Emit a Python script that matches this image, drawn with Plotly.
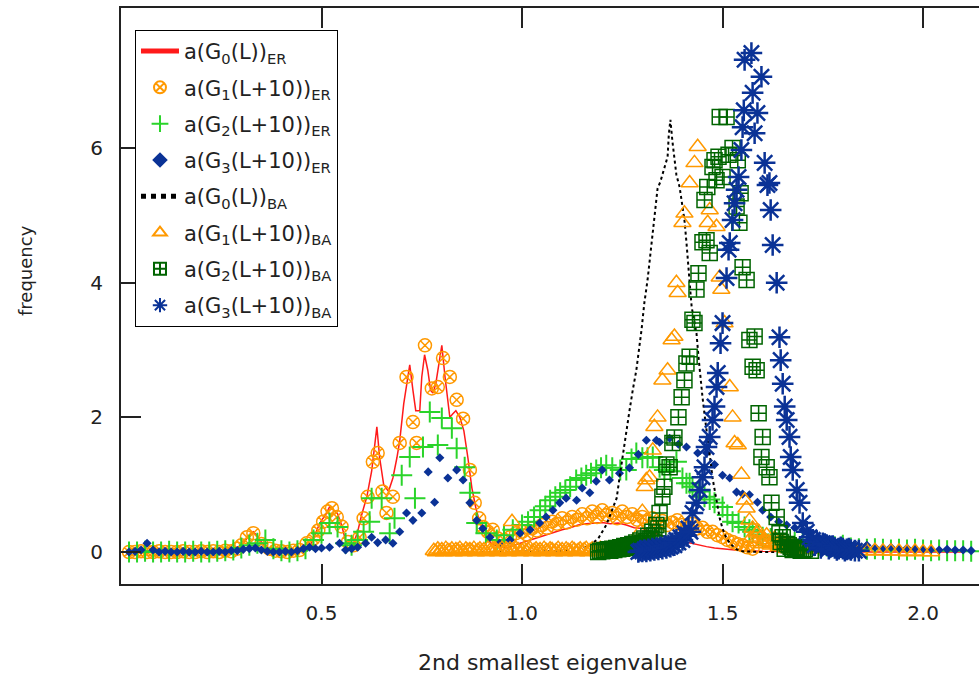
import plotly.graph_objects as go

# ---------------- data ----------------
# a(G0(L))_ER  (red line)
er0_x = [0.02,0.04,0.06,0.08,0.10,0.12,0.14,0.16,0.18,0.20,0.22,0.24,0.26,0.28,0.30,0.31,0.32,0.33,0.34,0.35,0.36,0.37,0.39,0.41,0.43,0.45,0.47,0.48,0.49,0.50,0.51,0.52,0.53,0.54,0.55,0.56,0.57,0.58,0.59,0.60,0.613,0.625,0.632,0.638,0.645,0.655,0.667,0.678,0.688,0.695,0.705,0.715,0.72,0.728,0.735,0.745,0.75,0.757,0.765,0.772,0.778,0.785,0.792,0.80,0.808,0.815,0.82,0.827,0.835,0.845,0.855,0.865,0.875,0.885,0.895,0.91,0.925,0.94,0.96,0.98,1.0,1.02,1.04,1.06,1.08,1.10,1.12,1.14,1.16,1.18,1.20,1.22,1.24,1.26,1.28,1.30,1.32,1.34,1.36,1.38,1.40,1.42,1.44,1.46,1.48,1.50,1.52,1.55,1.60,1.70,1.80,1.90,2.00,2.10]
er0_y = [0.0,0.01,0.02,0.0,0.01,0.0,0.01,0.0,0.01,0.0,0.01,0.02,0.02,0.04,0.10,0.18,0.25,0.30,0.24,0.15,0.08,0.04,0.02,0.01,0.02,0.03,0.08,0.20,0.35,0.47,0.55,0.67,0.62,0.57,0.40,0.17,0.12,0.13,0.30,0.55,0.82,1.20,1.55,1.86,1.40,1.00,0.90,1.10,1.40,1.65,2.20,2.60,2.78,2.40,2.10,2.10,2.60,2.93,2.70,2.40,2.36,2.50,2.80,3.07,2.60,2.20,2.00,2.05,2.10,2.00,1.80,1.40,0.95,0.65,0.43,0.22,0.12,0.08,0.06,0.10,0.14,0.18,0.22,0.26,0.30,0.33,0.36,0.40,0.42,0.43,0.44,0.42,0.43,0.40,0.36,0.35,0.30,0.26,0.22,0.20,0.16,0.13,0.10,0.08,0.06,0.05,0.04,0.02,0.01,0.0,0.0,0.0,0.0,0.0]

# a(G1(L+10))_ER  (orange circles)
er1_x = [0.02,0.035,0.05,0.065,0.08,0.095,0.11,0.125,0.14,0.155,0.17,0.185,0.20,0.215,0.23,0.245,0.26,0.275,0.29,0.30,0.314,0.33,0.35,0.37,0.385,0.40,0.415,0.43,0.445,0.463,0.48,0.492,0.504,0.515,0.526,0.538,0.55,0.566,0.58,0.595,0.605,0.615,0.628,0.64,0.652,0.662,0.678,0.695,0.712,0.728,0.737,0.758,0.775,0.79,0.803,0.82,0.837,0.853,0.87,0.882,0.893,0.903,0.915,0.927,0.94,0.955,0.97,0.985,1.0,1.012,1.025,1.037,1.05,1.062,1.075,1.087,1.10,1.112,1.125,1.137,1.15,1.162,1.175,1.187,1.20,1.212,1.225,1.237,1.25,1.262,1.275,1.287,1.30,1.312,1.325,1.337,1.35,1.362,1.375,1.387,1.40,1.412,1.425,1.437,1.45,1.462,1.475,1.487,1.50,1.512,1.525,1.537,1.55,1.562,1.575]
er1_y = [0.0,0.0,0.01,0.0,0.0,0.01,0.0,0.0,0.0,0.01,0.0,0.0,0.01,0.0,0.01,0.0,0.02,0.01,0.05,0.10,0.22,0.28,0.12,0.05,0.02,0.01,0.0,0.02,0.03,0.13,0.20,0.32,0.45,0.60,0.65,0.52,0.38,0.15,0.10,0.22,0.50,0.82,1.34,1.47,0.90,0.58,0.82,1.62,2.60,1.93,1.62,3.07,2.43,2.45,2.88,2.60,2.26,1.98,1.22,0.73,0.50,0.37,0.30,0.33,0.20,0.18,0.22,0.28,0.30,0.26,0.35,0.32,0.40,0.36,0.45,0.42,0.50,0.44,0.52,0.48,0.56,0.50,0.60,0.52,0.62,0.55,0.58,0.50,0.60,0.52,0.56,0.48,0.52,0.45,0.50,0.42,0.46,0.40,0.44,0.47,0.40,0.38,0.42,0.35,0.36,0.30,0.30,0.25,0.22,0.18,0.15,0.12,0.10,0.07,0.05]

# a(G2(L+10))_ER  (green plus)
er2_x = [0.02,0.04,0.06,0.08,0.10,0.12,0.14,0.16,0.18,0.20,0.22,0.24,0.26,0.28,0.30,0.32,0.34,0.36,0.38,0.40,0.42,0.44,0.46,0.48,0.50,0.52,0.54,0.56,0.575,0.59,0.605,0.62,0.625,0.65,0.67,0.682,0.70,0.72,0.733,0.753,0.77,0.79,0.80,0.825,0.837,0.857,0.87,0.887,0.91,0.937,0.955,0.977,1.0,1.015,1.03,1.045,1.058,1.07,1.083,1.095,1.108,1.12,1.135,1.148,1.16,1.172,1.185,1.197,1.21,1.225,1.245,1.26,1.273,1.285,1.30,1.313,1.326,1.343,1.355,1.37,1.385,1.40,1.41,1.418,1.425,1.44,1.455,1.468,1.48,1.50,1.512,1.525,1.54,1.555,1.567,1.575,1.59,1.60,1.62,1.64,1.66,1.68,1.70,1.72,1.74,1.76,1.78,1.80,1.82,1.84,1.86,1.88,1.90,1.92,1.94,1.96,1.98,2.00,2.02,2.04,2.06,2.08,2.10,2.12]
er2_y = [0.0,0.0,0.01,0.0,0.0,0.01,0.0,0.0,0.01,0.0,0.0,0.01,0.02,0.03,0.06,0.10,0.13,0.18,0.05,0.02,0.0,0.02,0.05,0.18,0.28,0.43,0.37,0.13,0.10,0.18,0.30,0.45,0.80,0.80,0.28,0.50,1.14,1.41,0.80,1.56,2.08,1.59,1.99,1.84,1.54,1.26,0.88,0.43,0.28,0.18,0.25,0.33,0.40,0.45,0.52,0.62,0.68,0.77,0.82,0.88,0.92,0.97,1.07,1.10,1.14,1.17,1.22,1.25,1.29,1.25,1.22,1.22,1.38,1.47,1.40,1.40,1.41,1.26,1.22,1.20,1.34,1.10,1.02,1.02,0.97,0.90,0.82,0.78,0.73,0.67,0.55,0.45,0.43,0.37,0.33,0.30,0.26,0.22,0.20,0.18,0.16,0.14,0.13,0.12,0.10,0.09,0.08,0.10,0.06,0.05,0.04,0.05,0.04,0.03,0.04,0.03,0.04,0.03,0.02,0.03,0.02,0.02,0.02,0.01]

# a(G3(L+10))_ER  (blue dots)
er3_x = [0.02,0.035,0.05,0.065,0.08,0.095,0.11,0.125,0.14,0.155,0.17,0.185,0.20,0.215,0.23,0.245,0.26,0.275,0.29,0.305,0.32,0.335,0.35,0.365,0.38,0.395,0.41,0.425,0.44,0.455,0.47,0.485,0.50,0.52,0.545,0.56,0.575,0.59,0.61,0.625,0.64,0.66,0.678,0.695,0.712,0.728,0.75,0.766,0.782,0.795,0.815,0.837,0.853,0.87,0.887,0.902,0.92,0.944,0.97,0.995,1.02,1.044,1.06,1.077,1.094,1.11,1.136,1.15,1.169,1.185,1.20,1.218,1.243,1.268,1.29,1.31,1.335,1.343,1.368,1.39,1.41,1.438,1.46,1.48,1.50,1.518,1.535,1.55,1.567,1.587,1.60,1.62,1.64,1.66,1.68,1.70,1.717,1.74,1.76,1.78,1.80,1.82,1.84,1.86,1.88,1.90,1.92,1.94,1.96,1.98,2.00,2.02,2.04,2.06,2.08,2.10,2.12]
er3_y = [0.0,0.01,0.03,0.13,0.03,0.0,0.01,0.0,0.0,0.01,0.0,0.0,0.01,0.0,0.0,0.01,0.0,0.02,0.02,0.04,0.05,0.06,0.03,0.01,0.0,0.0,0.01,0.0,0.02,0.05,0.07,0.05,0.06,0.07,0.13,0.03,0.05,0.07,0.13,0.22,0.14,0.18,0.13,0.30,0.58,0.47,0.58,1.19,0.74,1.40,1.10,1.22,1.07,0.73,0.47,0.35,0.22,0.13,0.18,0.28,0.33,0.43,0.52,0.62,0.73,0.80,0.77,0.95,0.88,1.05,1.22,1.07,1.17,1.25,1.45,1.66,1.66,1.63,1.69,1.60,1.56,1.47,1.47,1.30,1.14,1.10,0.89,0.86,0.85,0.74,0.62,0.52,0.45,0.40,0.36,0.33,0.30,0.22,0.20,0.15,0.14,0.10,0.08,0.10,0.07,0.06,0.07,0.05,0.06,0.05,0.04,0.04,0.03,0.04,0.03,0.03,0.02]

# a(G0(L))_BA  (black dotted line)
ba0_x = [0.90,0.95,1.00,1.05,1.10,1.15,1.17,1.19,1.21,1.226,1.236,1.243,1.25,1.26,1.268,1.276,1.285,1.298,1.305,1.313,1.32,1.326,1.332,1.338,1.345,1.35,1.356,1.363,1.366,1.37,1.375,1.38,1.385,1.393,1.40,1.405,1.41,1.413,1.418,1.423,1.43,1.435,1.44,1.445,1.45,1.456,1.463,1.47,1.475,1.485,1.493,1.50,1.51,1.52,1.535,1.55,1.60,1.70]
ba0_y = [0.0,0.0,0.0,0.01,0.02,0.05,0.10,0.20,0.40,0.65,0.80,1.10,1.40,1.80,2.10,2.40,2.70,3.30,3.70,4.04,4.40,4.78,5.10,5.40,5.50,5.60,5.70,5.87,6.20,6.42,6.10,5.87,5.60,5.42,5.10,4.93,4.60,4.34,4.00,3.64,3.40,3.25,2.90,2.55,2.30,2.00,1.71,1.35,1.10,0.75,0.50,0.35,0.20,0.12,0.04,0.01,0.0,0.0]

# a(G1(L+10))_BA  (orange triangles): dense low band, then the peak
ba1_band_x = [0.780,0.785,0.790,0.795,0.800,0.805,0.810,0.815,0.820,0.825,0.830,0.835,0.840,0.845,0.850,0.855,0.860,0.865,0.870,0.875,0.880,0.885,0.890,0.895,0.900,0.905,0.910,0.915,0.920,0.925,0.930,0.935,0.940,0.945,0.950,0.955,0.960,0.965,0.970,0.975,0.980,0.985,0.990,0.995,1.000,1.005,1.010,1.015,1.020,1.025,1.030,1.035,1.040,1.045,1.050,1.055,1.060,1.065,1.070,1.075,1.080,1.085,1.090,1.095,1.100,1.105,1.110,1.115,1.120,1.125,1.130,1.135,1.140,1.145,1.150,1.155,1.160,1.165,1.170,1.175,1.180,1.185,1.190,1.195,1.200,1.205,1.210,1.215,1.220,1.225,1.230,1.235,1.240,1.245,1.250,1.255,1.260,1.265,1.270,1.275,1.280,1.285,1.290]
ba1_band_y = [0.02,0.00,0.04,0.01,0.03,0.00,0.05,0.02,0.01,0.04,0.00,0.03,0.02,0.05,0.01,0.00,0.04,0.02,0.03,0.01,0.05,0.00,0.02,0.04,0.01,0.03,0.00,0.05,0.02,0.01,0.04,0.03,0.00,0.02,0.05,0.01,0.03,0.00,0.04,0.02,0.01,0.05,0.03,0.00,0.02,0.04,0.01,0.03,0.05,0.00,0.02,0.04,0.01,0.03,0.00,0.05,0.02,0.01,0.04,0.03,0.00,0.02,0.05,0.01,0.03,0.00,0.04,0.02,0.01,0.05,0.03,0.00,0.02,0.04,0.01,0.03,0.05,0.00,0.02,0.04,0.01,0.03,0.00,0.05,0.02,0.01,0.04,0.03,0.02,0.05,0.03,0.04,0.06,0.03,0.05,0.07,0.04,0.06,0.08,0.07,0.10,0.12,0.15]
ba1_x = [0.975,1.295,1.30,1.306,1.31,1.318,1.326,1.33,1.338,1.35,1.363,1.373,1.38,1.385,1.388,1.40,1.405,1.418,1.43,1.438,1.463,1.468,1.485,1.493,1.497,1.505,1.518,1.525,1.53,1.538,1.547,1.555,1.56,1.567,1.57,1.575,1.58,1.585,1.59,1.595,1.60,1.605,1.61,1.615,1.62,1.625,1.63,1.635,1.64,1.645,1.65,1.655,1.66,1.665,1.67,1.675,1.68,1.685,1.70,1.72,1.74,1.76,1.78,1.80,1.82,1.84,1.86,1.88,1.90,1.92,1.94,1.96,1.98,2.00,2.02]
ba1_y = [0.45,0.30,0.60,0.97,1.07,1.11,1.51,1.86,2.00,2.55,2.70,3.15,3.20,4.00,3.85,4.89,5.03,5.48,5.78,6.02,4.89,5.08,4.83,4.08,3.90,3.40,2.45,2.00,1.62,1.59,1.15,0.77,0.65,0.47,0.20,0.35,0.15,0.28,0.30,0.22,0.12,0.18,0.25,0.15,0.10,0.14,0.20,0.12,0.08,0.10,0.15,0.10,0.05,0.08,0.12,0.07,0.04,0.06,0.05,0.04,0.04,0.03,0.03,0.02,0.02,0.02,0.01,0.02,0.01,0.01,0.01,0.0,0.01,0.0,0.0]

# a(G2(L+10))_BA  (green squares)
ba2_x = [1.190,1.195,1.200,1.205,1.210,1.215,1.220,1.225,1.230,1.235,1.240,1.245,1.250,1.255,1.260,1.265,1.270,1.275,1.280,1.285,1.290,1.295,1.300,1.305,1.310,1.315,1.320,1.325,1.330,1.335,1.340,1.343,1.35,1.355,1.36,1.368,1.375,1.38,1.39,1.398,1.405,1.41,1.418,1.425,1.43,1.435,1.44,1.45,1.455,1.46,1.462,1.468,1.475,1.48,1.485,1.49,1.493,1.50,1.51,1.515,1.525,1.535,1.538,1.542,1.545,1.55,1.56,1.567,1.575,1.58,1.585,1.59,1.597,1.60,1.61,1.617,1.622,1.635,1.642,1.645,1.65,1.655,1.66,1.665,1.67,1.675,1.68,1.685,1.69,1.695,1.70,1.705,1.72]
ba2_y = [0.00,0.02,0.01,0.03,0.02,0.04,0.02,0.05,0.03,0.06,0.04,0.07,0.05,0.09,0.06,0.10,0.08,0.12,0.09,0.14,0.11,0.17,0.13,0.20,0.16,0.24,0.20,0.30,0.25,0.40,0.35,0.58,0.82,0.97,1.30,1.26,1.62,1.70,2.00,2.30,2.55,2.80,2.90,3.45,3.40,3.90,4.14,4.60,5.23,4.63,5.42,4.44,5.72,5.82,5.52,5.87,6.46,5.57,6.46,5.90,6.00,5.13,5.82,4.89,5.33,4.23,4.04,3.15,2.75,3.20,2.70,2.06,1.41,1.71,1.26,1.11,0.73,0.52,0.28,0.15,0.22,0.05,0.12,0.10,0.08,0.03,0.06,0.07,0.04,0.02,0.03,0.04,0.02]

# a(G3(L+10))_BA  (blue stars)
ba3_x = [1.290,1.295,1.300,1.305,1.310,1.315,1.320,1.325,1.330,1.335,1.340,1.345,1.350,1.355,1.360,1.365,1.370,1.375,1.380,1.385,1.390,1.395,1.400,1.405,1.410,1.415,1.420,1.425,1.435,1.443,1.45,1.455,1.46,1.468,1.475,1.48,1.485,1.488,1.495,1.50,1.51,1.515,1.518,1.525,1.53,1.535,1.54,1.547,1.55,1.553,1.555,1.572,1.575,1.58,1.587,1.597,1.605,1.612,1.617,1.62,1.625,1.635,1.642,1.645,1.65,1.655,1.66,1.667,1.67,1.675,1.685,1.692,1.70,1.71,1.717,1.725,1.73,1.735,1.745,1.75,1.755,1.76,1.765,1.77,1.775,1.78,1.785,1.79,1.795,1.80,1.805,1.81,1.815,1.82,1.83,1.84]
ba3_y = [0.00,0.02,0.01,0.03,0.01,0.04,0.02,0.05,0.03,0.06,0.04,0.07,0.05,0.09,0.06,0.10,0.08,0.13,0.10,0.18,0.14,0.22,0.18,0.28,0.24,0.35,0.30,0.58,0.73,0.92,1.11,1.26,1.56,1.71,1.96,2.16,2.45,2.66,3.10,3.40,4.07,4.49,4.59,4.93,5.18,5.38,5.57,5.97,6.31,6.56,7.31,7.41,6.82,6.22,6.52,7.06,5.78,5.45,5.48,5.08,4.56,4.00,3.19,2.85,2.50,2.16,1.96,1.71,1.41,1.22,0.92,0.73,0.43,0.30,0.22,0.18,0.10,0.15,0.06,0.13,0.12,0.10,0.05,0.08,0.09,0.06,0.03,0.05,0.07,0.05,0.02,0.04,0.05,0.03,0.02,0.02]

x_ticks = [0.5, 1.0, 1.5, 2.0]
x_tick_text = ["0.5", "1.0", "1.5", "2.0"]
y_ticks = [0, 2, 4, 6]
y_tick_text = ["0", "2", "4", "6"]

ORANGE = "#ff9900"
BLUE = "#0a3296"
GREEN = "#2ad42a"
DKGREEN = "#006400"
FONT = "DejaVu Sans"
INK = "#222222"

fig = go.Figure()

def add(name, x, y, group, **kw):
    fig.add_trace(go.Scatter(x=x, y=y, name=name, legendgroup=group, **kw))

add("a(G<sub>0</sub>(L))<sub>ER</sub>", er0_x, er0_y, "g1",
    mode="lines", line=dict(color="#ff1a1a", width=1.5))
add("a(G<sub>1</sub>(L+10))<sub>ER</sub>", er1_x, er1_y, "g2",
    mode="markers", marker=dict(symbol="circle-x-open", size=13, color=ORANGE, line=dict(width=1.5, color=ORANGE)))
add("a(G<sub>2</sub>(L+10))<sub>ER</sub>", er2_x, er2_y, "g3",
    mode="markers", marker=dict(symbol="cross-thin-open", size=15, color=GREEN, line=dict(width=2, color=GREEN)))
add("a(G<sub>3</sub>(L+10))<sub>ER</sub>", er3_x, er3_y, "g4",
    mode="markers", marker=dict(symbol="diamond", size=7, color=BLUE, line=dict(width=0)))
add("a(G<sub>0</sub>(L))<sub>BA</sub>", ba0_x, ba0_y, "g5",
    mode="lines", line=dict(color="black", width=2, dash="dot"))
add("a(G<sub>1</sub>(L+10))<sub>BA</sub>", ba1_band_x + ba1_x, ba1_band_y + ba1_y, "g6",
    mode="markers", marker=dict(symbol="triangle-up-open", size=15, color=ORANGE, line=dict(width=1.5, color=ORANGE)))
add("a(G<sub>2</sub>(L+10))<sub>BA</sub>", ba2_x, ba2_y, "g7",
    mode="markers", marker=dict(symbol="square-cross-open", size=15, color=DKGREEN, line=dict(width=1.5, color=DKGREEN)))
add("a(G<sub>3</sub>(L+10))<sub>BA</sub>", ba3_x, ba3_y, "g8",
    mode="markers", marker=dict(symbol="asterisk-open", size=18, color=BLUE, line=dict(width=2.5, color=BLUE)))

fig.update_layout(
    width=979, height=679,
    margin=dict(l=121, r=0, t=8, b=95),
    paper_bgcolor="white", plot_bgcolor="white",
    font=dict(family=FONT, size=20, color=INK),
    showlegend=True,
    legend=dict(x=0.0163, y=0.962, xanchor="left", yanchor="top",
                bgcolor="white", bordercolor="black", borderwidth=1,
                font=dict(family=FONT, size=21, color=INK),
                tracegroupgap=6, itemwidth=38, itemsizing="constant"),
    xaxis=dict(range=[0, 2.1395], tickvals=x_ticks, ticktext=x_tick_text,
               ticks="inside", ticklen=20, tickwidth=2, tickcolor=INK,
               showline=True, linecolor=INK, linewidth=2, mirror="ticks",
               showgrid=False, zeroline=False, ticklabelstandoff=10,
               tickfont=dict(family=FONT, size=20, color=INK)),
    yaxis=dict(range=[-0.475, 8.08], tickvals=y_ticks, ticktext=y_tick_text,
               ticks="inside", ticklen=20, tickwidth=2, tickcolor=INK,
               showline=True, linecolor=INK, linewidth=2, mirror=False,
               showgrid=False, zeroline=False, ticklabelstandoff=12,
               tickfont=dict(family=FONT, size=20, color=INK)),
    yaxis2=dict(range=[-0.475, 8.08], overlaying="y", side="right",
                tickvals=y_ticks, showticklabels=False,
                ticks="inside", ticklen=11, tickwidth=2, tickcolor=INK,
                showline=False, showgrid=False, zeroline=False),
    annotations=[
        dict(text="2nd smallest eigenvalue", xref="paper", yref="paper",
             x=0.503, y=-0.137, xanchor="center", yanchor="middle", showarrow=False,
             font=dict(family=FONT, size=22, color=INK)),
        dict(text="frequency", xref="paper", yref="paper",
             x=-0.112, y=0.545, xanchor="center", yanchor="middle", showarrow=False,
             textangle=-90, font=dict(family=FONT, size=18, color=INK)),
    ],
)

fig.write_html("out.html")
